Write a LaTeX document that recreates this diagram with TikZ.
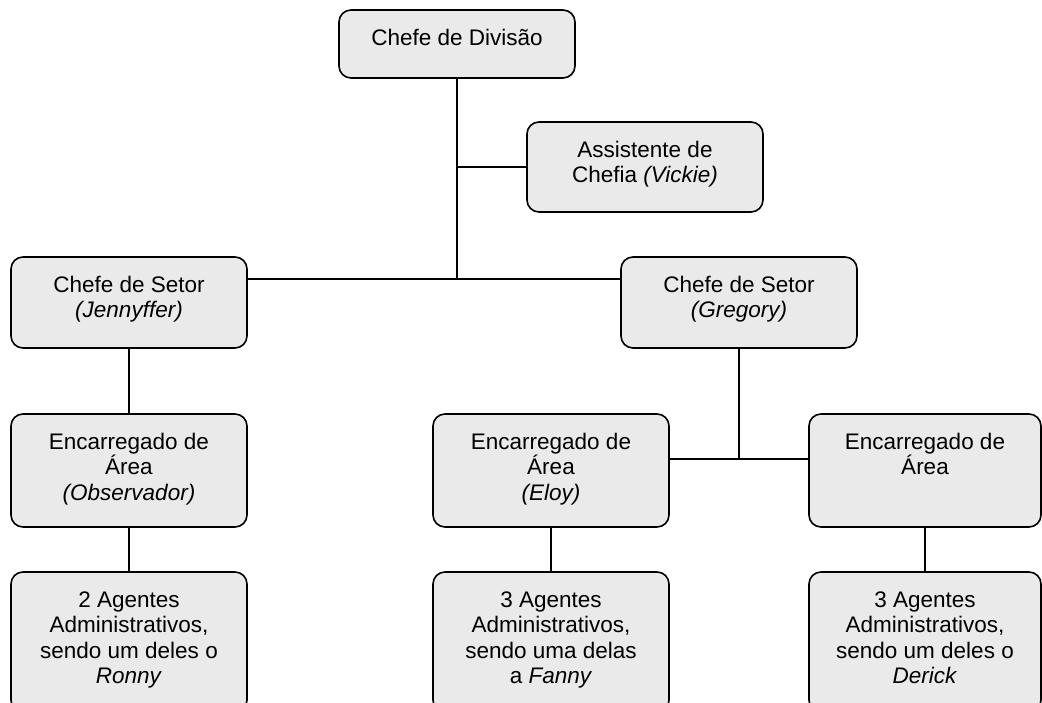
\documentclass[tikz,border=0pt]{standalone}
\usepackage{fontspec}
\setmainfont{Liberation Sans}
\definecolor{boxfill}{RGB}{234,234,234}
\newcommand\bxt[3]{\parbox[c][#1pt][t]{#2pt}{\centering\rule{0pt}{35pt}#3\par}}
\tikzset{
  orgbox/.style={draw=black, line width=1.6pt, fill=boxfill, rounded corners=12pt, inner sep=0pt, font=\fontsize{22.5}{25.5}\selectfont},
  conn/.style={line width=1.6pt, draw=black}
}
\begin{document}
\begin{tikzpicture}[x=1pt,y=-1pt]
\clip (0,0) rectangle (1042,702);
\fill[white] (0,0) rectangle (1042,702);
\coordinate (j1) at (457,279);
\coordinate (j2) at (739,459);
\node[orgbox] (div) at (457,44) {\bxt{68}{236}{Chefe de Divisão}};
\node[orgbox] (ast) at (645,167) {\bxt{90}{236}{Assistente de\\Chefia \textit{(Vickie)}}};
\node[orgbox] (jen) at (129,302.5) {\bxt{91}{236}{Chefe de Setor\\\textit{(Jennyffer)}}};
\node[orgbox] (gre) at (739,302.5) {\bxt{91}{236}{Chefe de Setor\\\textit{(Gregory)}}};
\node[orgbox] (obs) at (129,470.5) {\bxt{113}{236}{Encarregado de\\Área\\\textit{(Observador)}}};
\node[orgbox] (eloy) at (551,470.5) {\bxt{113}{236}{Encarregado de\\Área\\\textit{(Eloy)}}};
\node[orgbox] (enc) at (925,470.5) {\bxt{113}{232}{Encarregado de\\Área}};
\node[orgbox] (ag1) at (129,642) {\bxt{140}{236}{2 Agentes\\Administrativos,\\sendo um deles o\\\textit{Ronny}}};
\node[orgbox] (ag2) at (551,642) {\bxt{140}{236}{3 Agentes\\Administrativos,\\sendo uma delas\\a \textit{Fanny}}};
\node[orgbox] (ag3) at (925,642) {\bxt{140}{232}{3 Agentes\\Administrativos,\\sendo um deles o\\\textit{Derick}}};
\draw[conn] (div.south) -- (j1);
\draw[conn] (div.south |- ast.west) -- (ast.west);
\draw[conn] (jen.east |- j1) -- (gre.west |- j1);
\draw[conn] (jen.south) -- (obs.north);
\draw[conn] (gre.south) -- (j2);
\draw[conn] (eloy.east |- j2) -- (enc.west |- j2);
\draw[conn] (obs.south) -- (ag1.north);
\draw[conn] (eloy.south) -- (ag2.north);
\draw[conn] (enc.south) -- (ag3.north);
\end{tikzpicture}
\end{document}
